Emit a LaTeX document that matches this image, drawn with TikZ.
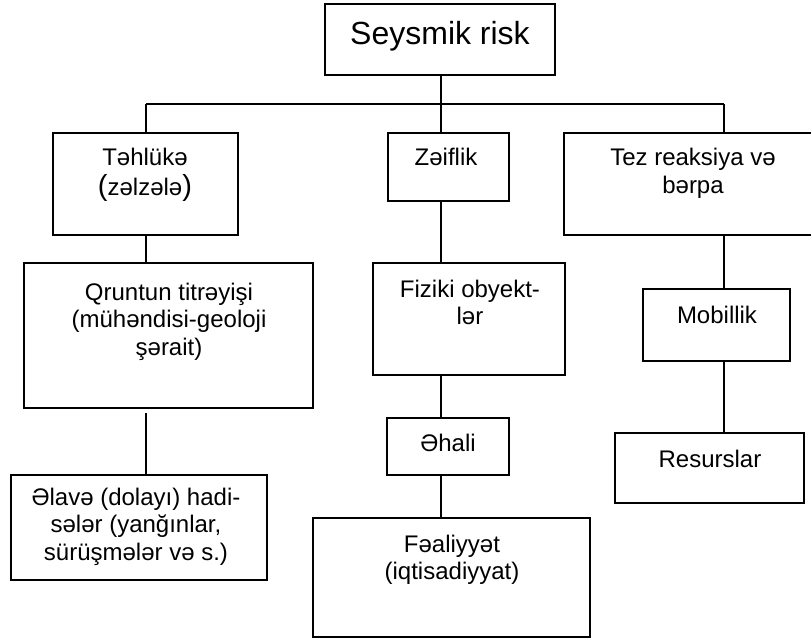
\documentclass[tikz,border=0pt]{standalone}
\usepackage{fontspec}
\setmainfont{Liberation Sans}
\newcommand{\fsN}{\fontsize{24}{27.6}\selectfont}
\newcommand{\fsB}{\fontsize{32}{36}\selectfont}
\newcommand{\bp}[1]{{\fontsize{29}{27.6}\selectfont #1}}
\begin{document}
\begin{tikzpicture}[x=1pt,y=-1pt,
  box/.style={draw=black, line width=1.6pt, inner sep=0pt, fill=none},
  conn/.style={draw=black, line width=1.6pt},
  lbl/.style={anchor=base, inner sep=0pt, font=\fsN},
  big/.style={anchor=base, inner sep=0pt, font=\fsB}]
\useasboundingbox (0,0) rectangle (811,639);
\clip (0,0) rectangle (811,639);
\fill[white] (0,0) rectangle (811,639);
% boxes: (left,top) rectangle (right,bottom)
\newcommand{\mkbox}[5]{\node[box, minimum width={(#4)-(#2)}, minimum height={(#5)-(#3)}] (#1) at ({((#2)+(#4))/2},{((#3)+(#5))/2}) {};}
\node[box, minimum width=230pt, minimum height=71pt] (top) at (440,39.5) {};
\node[box, minimum width=185pt, minimum height=102pt] (tehl) at (145.5,184) {};
\node[box, minimum width=121pt, minimum height=68pt] (zeif) at (448.5,167) {};
\node[box, minimum width=258pt, minimum height=102pt] (tez) at (693,184) {};
\node[box, minimum width=289pt, minimum height=145pt] (qrunt) at (168.5,335.5) {};
\node[box, minimum width=256pt, minimum height=105pt] (alave) at (139,527.5) {};
\node[box, minimum width=192pt, minimum height=112pt] (fiz) at (469,319) {};
\node[box, minimum width=122pt, minimum height=57pt] (ehali) at (448,446.5) {};
\node[box, minimum width=277pt, minimum height=119pt] (feal) at (451.5,577.5) {};
\node[box, minimum width=147pt, minimum height=72pt] (mob) at (716.5,325) {};
\node[box, minimum width=189pt, minimum height=70pt] (res) at (709.5,468) {};
% texts
\node[big] (t-top) at (440,45) {Seysmik risk};
\node[lbl] (t-tehl) at (145,166) {\begin{tabular}[t]{@{}c@{}}Təhlükə\\\bp{(}zəlzələ\bp{)}\end{tabular}};
\node[lbl] (t-zeif) at (446,166) {Zəiflik};
\node[lbl] (t-tez) at (693,166) {\begin{tabular}[t]{@{}c@{}}Tez reaksiya və\\bərpa\end{tabular}};
\node[lbl] (t-qrunt) at (169,300) {\begin{tabular}[t]{@{}c@{}}Qruntun titrəyişi\\(mühəndisi-geoloji\\şərait)\end{tabular}};
\node[lbl] (t-alave) at (136,505) {\begin{tabular}[t]{@{}c@{}}Əlavə (dolayı) hadi-\\sələr (yanğınlar,\\sürüşmələr və s.)\end{tabular}};
\node[lbl] (t-fiz) at (470,297) {\begin{tabular}[t]{@{}c@{}}Fiziki obyekt-\\lər\end{tabular}};
\node[lbl] (t-ehali) at (448,451) {Əhali};
\node[lbl] (t-feal) at (452,552) {\begin{tabular}[t]{@{}c@{}}Fəaliyyət\\(iqtisadiyyat)\end{tabular}};
\node[lbl] (t-mob) at (717,323) {Mobillik};
\node[lbl] (t-res) at (710,467) {Resurslar};
% junction coordinates
\coordinate (hc) at (441,104);
\coordinate (h1) at (146,104);
\coordinate (h2) at (441,104);
\coordinate (h3) at (724,104);
\coordinate (gap) at (146,413);
% connectors
\draw[conn] (top.south -| hc) -- (hc);
\draw[conn] (h1) -- (h3);
\draw[conn] (h1) -- (h1 |- tehl.north);
\draw[conn] (h2) -- (h2 |- zeif.north);
\draw[conn] (h3) -- (h3 |- tez.north);
\draw[conn] (h1 |- tehl.south) -- (h1 |- qrunt.north);
\draw[conn] (gap) -- (gap |- alave.north);
\draw[conn] (h2 |- zeif.south) -- (h2 |- fiz.north);
\draw[conn] (h2 |- fiz.south) -- (h2 |- ehali.north);
\draw[conn] (h2 |- ehali.south) -- (h2 |- feal.north);
\draw[conn] (h3 |- tez.south) -- (h3 |- mob.north);
\draw[conn] (h3 |- mob.south) -- (h3 |- res.north);
\end{tikzpicture}
\end{document}
